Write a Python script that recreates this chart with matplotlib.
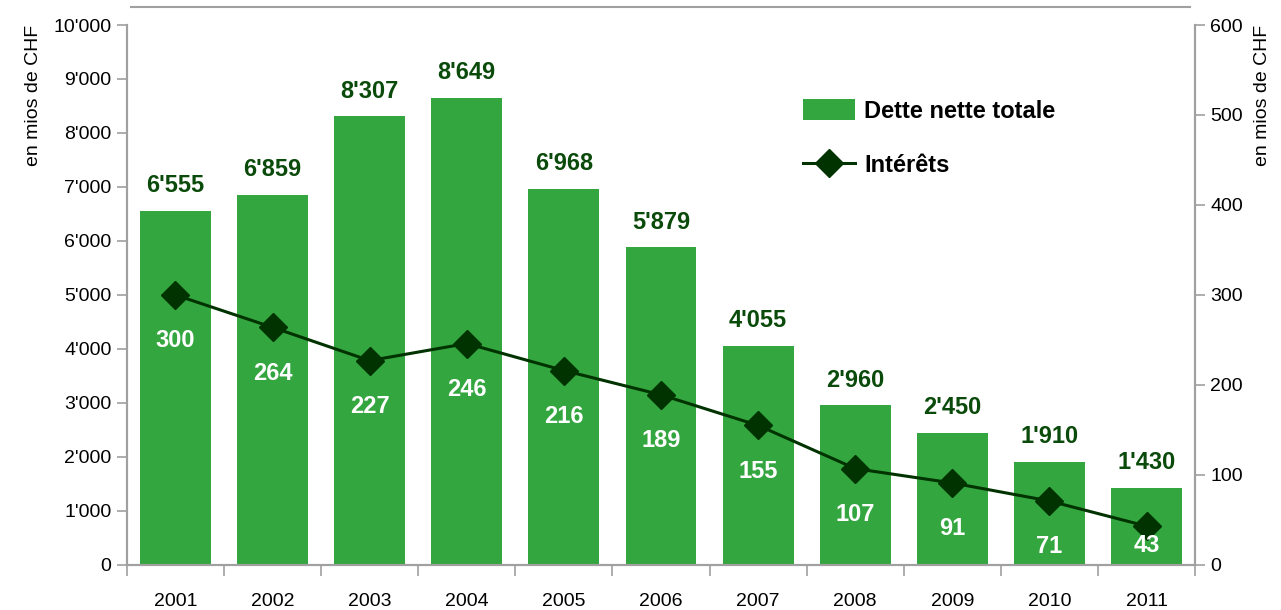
import matplotlib
matplotlib.use("Agg")
import matplotlib.pyplot as plt
from matplotlib.lines import Line2D
from matplotlib.ticker import FuncFormatter, FixedLocator

annees = ['2001', '2002', '2003', '2004', '2005', '2006', '2007', '2008', '2009', '2010', '2011']
dette = [6555, 6859, 8307, 8649, 6968, 5879, 4055, 2960, 2450, 1910, 1430]
interets = [300, 264, 227, 246, 216, 189, 155, 107, 91, 71, 43]

vert = '#34a640'
vert_fonce = '#003300'
gris = '#a0a0a0'

plt.rcParams['font.family'] = ['Liberation Sans Narrow', 'Liberation Sans', 'DejaVu Sans']

def milliers(v, pos):
    v = int(round(v))
    if v >= 1000:
        return f"{v // 1000}'{v % 1000:03d}"
    return str(v)

fig = plt.figure(figsize=(12.81, 6.10), dpi=100)
ax = fig.add_axes([0.099, 0.074, 0.834, 0.885])
ax2 = ax.twinx()

x = list(range(len(annees)))
barres = ax.bar(x, dette, width=0.73, color=vert, label='Dette nette totale', zorder=2)
ax.set_xlim(-0.5, len(annees) - 0.5)
ax.set_ylim(0, 10000)
ax.set_yticks(range(0, 10001, 1000))
ax.yaxis.set_major_formatter(FuncFormatter(milliers))

for xi, v in zip(x, dette):
    ax.annotate(milliers(v, None), (xi, v), xytext=(0, 18), textcoords='offset points',
                ha='center', va='center', fontsize=17, fontweight='bold', color='#0a4a0a')

ax2.plot(x, interets, color=vert_fonce, linewidth=2.2, marker='D', markersize=14,
         label='Intérêts', zorder=3)
ax2.set_ylim(0, 600)
ax2.set_yticks(range(0, 601, 100))

decal = [-33, -33, -33, -33, -33, -33, -33, -33, -33, -33, -14]
for xi, v, d in zip(x, interets, decal):
    ax2.annotate(str(v), (xi, v), xytext=(0, d), textcoords='offset points',
                 ha='center', va='center', fontsize=17, fontweight='bold', color='white')

# axe des x: noms au centre, graduations entre les barres
ax.set_xticks(x)
ax.set_xticklabels(annees)
ax.xaxis.set_minor_locator(FixedLocator([i - 0.5 for i in range(len(annees) + 1)]))
ax.tick_params(axis='x', which='major', length=0, pad=20, labelsize=14)
ax.tick_params(axis='x', which='minor', length=8, color=gris, width=1.2, direction='out')
ax.tick_params(axis='y', length=7, color=gris, width=1.2, labelsize=14, pad=4)
ax2.tick_params(axis='y', length=7, color=gris, width=1.2, labelsize=14, pad=4)

for a in (ax, ax2):
    a.spines['top'].set_visible(False)
    for s in ('left', 'right', 'bottom'):
        a.spines[s].set_color(gris)
        a.spines[s].set_linewidth(1.5)

ax.set_ylabel('en mios de CHF', fontsize=14, labelpad=8, loc='top')
ax2.set_ylabel('en mios de CHF', fontsize=14, rotation=90, labelpad=8, loc='top')

# ligne grise en haut
fig.add_artist(Line2D([0.102, 0.929], [0.988, 0.988], color=gris, linewidth=1.5))

h1, l1 = ax.get_legend_handles_labels()
h2, l2 = ax2.get_legend_handles_labels()
leg = ax2.legend(h1 + h2, l1 + l2, loc='upper left', bbox_to_anchor=(0.613, 0.902),
                 frameon=False, fontsize=17, handlelength=2.2, handleheight=1.0,
                 labelspacing=1.3, handletextpad=0.4)
for t in leg.get_texts():
    t.set_fontweight('bold')

fig.savefig('out.png', dpi=100)
